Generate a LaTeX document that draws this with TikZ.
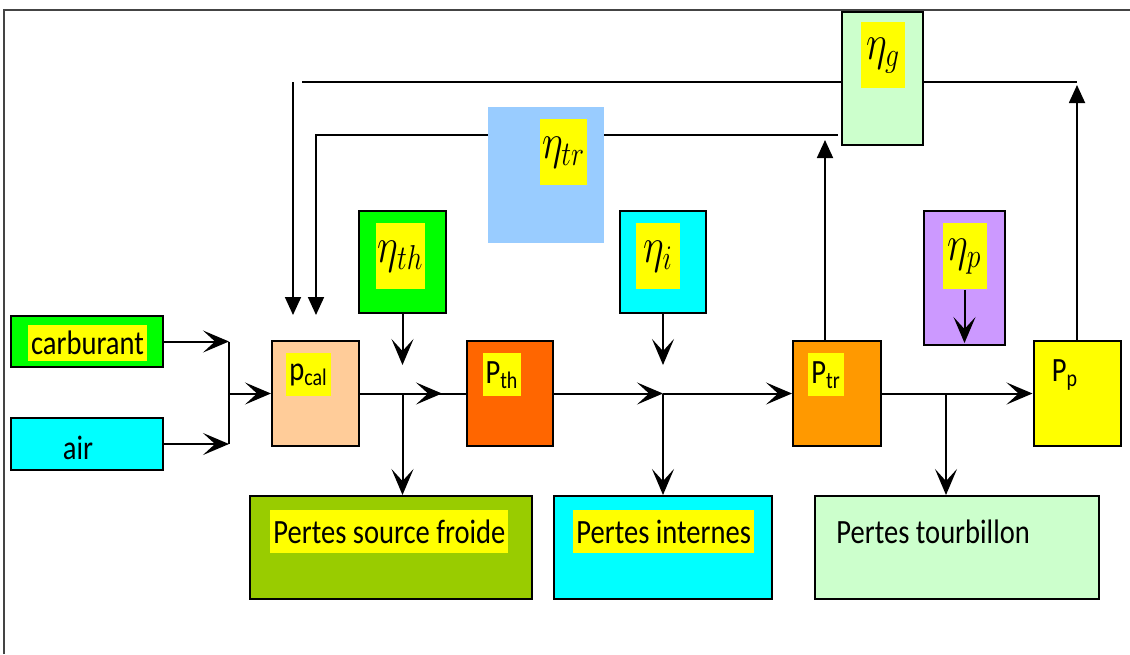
\documentclass[tikz,border=0pt]{standalone}
\usepackage{fontspec}
\setmainfont{Carlito}[FakeStretch=0.84]
\usepackage{graphicx}
\usepackage{tikz}
\usetikzlibrary{arrows.meta,calc,decorations.markings}

\definecolor{fuelgreen}{HTML}{00FF00}
\definecolor{aircyan}{HTML}{00FFFF}
\definecolor{peach}{HTML}{FFCC99}
\definecolor{thorange}{HTML}{FF6600}
\definecolor{trorange}{HTML}{FF9900}
\definecolor{lilac}{HTML}{CC99FF}
\definecolor{mint}{HTML}{CCFFCC}
\definecolor{skyblue}{HTML}{99CCFF}
\definecolor{olive}{HTML}{99CC00}
\definecolor{hlyellow}{HTML}{FFFF00}
\definecolor{framegray}{HTML}{444444}

\newcommand{\etasym}[1]{\scalebox{0.8}[1]{$\eta_{#1}$}}

\tikzset{
  blk/.style={draw=black, line width=1pt, inner sep=0pt},
  hl/.style={fill=hlyellow, inner sep=1.5pt, minimum height=21.5pt, font=\fontsize{17}{20}\selectfont},
  txt/.style={inner sep=1.5pt, minimum height=21.5pt, font=\fontsize{17}{20}\selectfont},
  etahl/.style={fill=hlyellow, inner sep=1pt, minimum height=33pt, minimum width=22pt, font=\fontsize{24}{28}\selectfont},
  flow/.style={draw=black, line width=1pt, -{Stealth[length=13pt,width=11pt,inset=6pt]}},
  midflow/.style={draw=black, line width=1pt, postaction={decorate},
    decoration={markings, mark=at position -12pt with {\arrow{Stealth[length=13pt,width=11pt,inset=6pt]}}}},
  lift/.style={draw=black, line width=0.9pt, -{Triangle[length=9pt,width=8pt]}},
  wire/.style={draw=black, line width=0.9pt},
}

\begin{document}
\begin{tikzpicture}[x=0.5pt, y=-0.5pt]
  \useasboundingbox (0,0) rectangle (1130,654);
  \draw[framegray, line width=1.2pt] (4,654) -- (4,10) -- (1130,10);

  % inputs
  \node[blk, fill=fuelgreen, minimum width=76pt, minimum height=25.5pt] (carb) at (87,341.5) {};
  \node[hl, anchor=center, minimum height=18pt] (carblbl) at (87.5,343) {carburant};
  \node[blk, fill=aircyan, minimum width=76pt, minimum height=26pt] (air) at (87,444) {};
  \node[txt] (airlbl) at (78,448) {air};

  % power chain
  \node[blk, fill=peach, minimum width=43.5pt, minimum height=52.5pt] (pcal) at (315.5,393.5) {};
  \node[hl, anchor=north] (pcallbl) at (308.5,353) {p\textsubscript{cal}};
  \node[blk, fill=thorange, minimum width=43pt, minimum height=52.5pt] (pth) at (510,393.5) {};
  \node[hl, anchor=north] (pthlbl) at (502,353) {P\textsubscript{th}};
  \node[blk, fill=trorange, minimum width=44pt, minimum height=52.5pt] (ptr) at (837,393.5) {};
  \node[hl, anchor=north] (ptrlbl) at (826,353) {P\textsubscript{tr}};
  \node[blk, fill=hlyellow, minimum width=43.5pt, minimum height=52.5pt] (pp) at (1077,393.5) {};
  \node[txt, anchor=north] (pplbl) at (1065,353) {P\textsubscript{p}};

  % efficiencies
  \node[blk, fill=fuelgreen, minimum width=43.5pt, minimum height=51pt] (etath) at (402.5,262) {};
  \node[etahl, anchor=north] (etathlbl) at (400.5,223) {\etasym{th}};
  \node[blk, fill=aircyan, minimum width=43pt, minimum height=51pt] (etai) at (663,262) {};
  \node[etahl, anchor=north] (etailbl) at (658,223) {\etasym{i}};
  \node[blk, fill=lilac, minimum width=40.5pt, minimum height=67pt] (etap) at (964.5,278) {};
  \node[etahl, anchor=north] (etaplbl) at (964.5,223) {\etasym{p}};
  \node[blk, fill=mint, minimum width=40.5pt, minimum height=66.5pt] (etag) at (882.5,78.5) {};
  \node[etahl, anchor=north] (etaglbl) at (883,22) {\etasym{g}};
  \node[fill=skyblue, inner sep=0pt, minimum width=58pt, minimum height=68pt] (etatr) at (546,175) {};
  \node[etahl, anchor=north] (etatrlbl) at (563.5,119) {\etasym{tr}};

  % losses
  \node[blk, fill=olive, minimum width=141pt, minimum height=51.5pt] (sf) at (391,547.5) {};
  \node[hl, anchor=north west] (sflbl) at (270,510) {Pertes source froide};
  \node[blk, fill=aircyan, minimum width=109pt, minimum height=51.5pt] (pi) at (663,547.5) {};
  \node[hl, anchor=north west] (pilbl) at (573,510) {Pertes internes};
  \node[blk, fill=mint, minimum width=142pt, minimum height=51.5pt] (pt) at (957,547.5) {};
  \node[txt, anchor=north west] (ptlbl) at (833,510) {Pertes tourbillon};

  % junctions and free ends
  \coordinate (mix) at (229,393.5);
  \coordinate (thj) at (etath.south |- pcal.east);
  \coordinate (ij) at (etai.south |- pth.east);
  \coordinate (tj) at (946,393.5);
  \coordinate (thin) at (402.5,365);
  \coordinate (iin) at (663,365);
  \coordinate (ptrup) at ($(ptr.north)+(-12,0)$);
  \coordinate (trR) at (838,135);
  \coordinate (trEnd) at (316,315);
  \coordinate (gL) at (302,82);
  \coordinate (gTop) at (293,82);
  \coordinate (gEnd) at (293,315);
  \coordinate (gR) at (pp.north |- gL);

  % main flow
  \draw[flow] (carb.east) -- (carb.east -| mix);
  \draw[flow] (air.east) -- (air.east -| mix);
  \draw[line width=1pt] (carb.east -| mix) -- (air.east -| mix);
  \draw[flow] (mix) -- (pcal.west);
  \draw[midflow] (pcal.east) -- (pth.west);
  \draw[flow] (pth.east) -- (ij);
  \draw[flow] (ij) -- (ptr.west);
  \draw[flow] (ptr.east) -- (pp.west);

  % efficiencies in
  \draw[flow] (etath.south) -- (thin);
  \draw[flow] (etai.south) -- (iin);
  \draw[flow, shorten >=1.5pt] (etaplbl.south) -- (etap.south);

  % losses out
  \draw[flow] (thj) -- (thj |- sf.north);
  \draw[flow] (ij) -- (ij |- pi.north);
  \draw[flow] (tj) -- (tj |- pt.north);

  % feedback
  \draw[lift, shorten >=2.5pt] (ptrup) -- (ptrup |- trR);
  \draw[wire] (etatr.east |- trR) -- (trR);
  \draw[lift] (etatr.west |- trR) -| (trEnd);
  \draw[lift, shorten >=1.5pt] (pp.north) -- (gR);
  \draw[wire] (etag.east |- gR) -- (gR);
  \draw[wire] (gL -| etag.west) -- (gL);
  \draw[lift] (gTop) -- (gEnd);
\end{tikzpicture}
\end{document}
